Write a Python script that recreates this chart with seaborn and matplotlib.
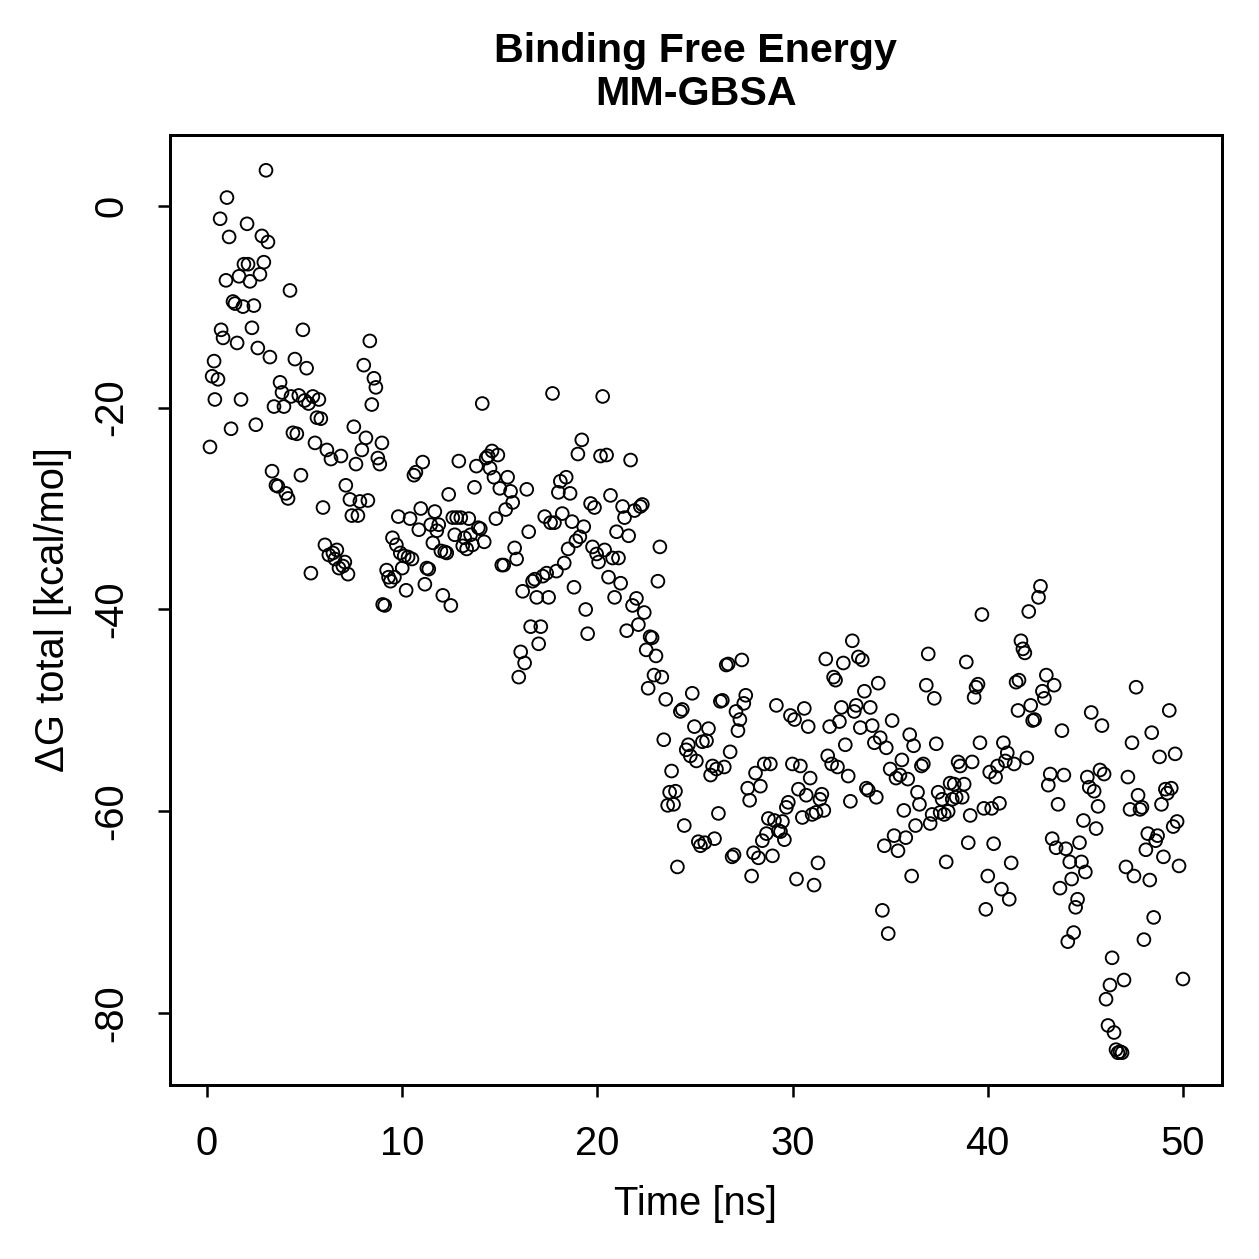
import matplotlib
matplotlib.use("Agg")
import matplotlib.pyplot as plt
import seaborn as sns
import pandas as pd

# time [ns] and dG total [kcal/mol]
time_ns = [
    0.15, 0.26, 0.36, 0.40, 0.56, 0.67, 0.72, 0.82, 0.97, 1.02,
    1.13, 1.23, 1.33, 1.43, 1.54, 1.64, 1.74, 1.84, 1.89, 2.05,
    2.10, 2.20, 2.30, 2.40, 2.50, 2.60, 2.71, 2.81, 2.91, 3.02,
    3.12, 3.22, 3.33, 3.43, 3.53, 3.63, 3.74, 3.84, 3.94, 4.04,
    4.15, 4.25, 4.30, 4.40, 4.50, 4.60, 4.70, 4.81, 4.91, 5.00,
    5.10, 5.20, 5.32, 5.42, 5.53, 5.63, 5.73, 5.83, 5.94, 6.04,
    6.14, 6.24, 6.35, 6.45, 6.55, 6.65, 6.76, 6.86, 6.96, 7.06,
    7.11, 7.22, 7.32, 7.42, 7.52, 7.63, 7.73, 7.83, 7.93, 8.03,
    8.14, 8.24, 8.34, 8.44, 8.55, 8.65, 8.75, 8.85, 8.96,
    9.0, 9.1, 9.2, 9.3, 9.4, 9.5, 9.6, 9.7, 9.8, 9.9,
    10.0, 10.1, 10.2, 10.3, 10.4, 10.5, 10.6, 10.7,
    10.85, 10.95, 11.05, 11.16, 11.26, 11.36, 11.46, 11.57, 11.67, 11.77,
    11.87, 11.98, 12.08, 12.18, 12.28, 12.38, 12.49, 12.59, 12.69, 12.79,
    12.9, 13.0, 13.1, 13.2, 13.3, 13.41, 13.5, 13.6, 13.7, 13.8, 13.9, 14.0,
    14.1, 14.2, 14.3, 14.4, 14.5, 14.6, 14.7, 14.8, 14.9, 15.0, 15.1, 15.2, 15.3, 15.4,
    15.55, 15.66, 15.76, 15.86, 15.97, 16.07, 16.17, 16.27, 16.38, 16.48,
    16.58, 16.68, 16.79, 16.89, 16.99,
    17.1, 17.2, 17.3, 17.4, 17.5, 17.6, 17.7, 17.8, 17.9, 18.0,
    18.1, 18.2, 18.3, 18.4, 18.5, 18.6, 18.7, 18.8, 18.9, 19.0,
    19.1, 19.2, 19.3, 19.4, 19.5,
    19.65, 19.75, 19.85, 19.96, 20.06, 20.16, 20.27, 20.37, 20.47, 20.57,
    20.67, 20.78, 20.88, 20.98, 21.08, 21.19, 21.29, 21.39,
    21.5, 21.6, 21.7, 21.8, 21.9, 22.0, 22.1, 22.2, 22.3, 22.4,
    22.5, 22.6, 22.7, 22.8, 22.9, 23.0, 23.1, 23.2, 23.3, 23.4,
    23.5, 23.6, 23.7, 23.8, 23.9, 24.0, 24.1,
    24.25, 24.35, 24.45, 24.55, 24.66, 24.76, 24.86, 24.97, 25.07, 25.17,
    25.28, 25.38, 25.5, 25.59, 25.69, 25.8, 25.9,
    26.0, 26.1, 26.2, 26.3, 26.4, 26.5, 26.6, 26.7, 26.8, 26.9,
    27.0, 27.1, 27.2, 27.3, 27.4, 27.5, 27.6, 27.7, 27.8, 27.9, 28.0, 28.1,
    28.25, 28.35, 28.45, 28.55, 28.66, 28.76, 28.86, 28.97, 29.07, 29.17,
    29.27, 29.38, 29.48, 29.58, 29.68, 29.78, 29.89, 29.99,
    30.1, 30.2, 30.3, 30.4, 30.5, 30.6, 30.7, 30.8, 30.9, 31.0,
    31.1, 31.2, 31.3, 31.4, 31.5, 31.6, 31.7, 31.8, 31.9, 32.0,
    32.1, 32.2, 32.3, 32.4, 32.5, 32.6, 32.7,
    32.85, 32.96, 33.06, 33.16, 33.26, 33.37, 33.47, 33.57, 33.68, 33.78,
    33.88, 33.98, 34.08, 34.19, 34.29, 34.39, 34.49,
    34.6, 34.7, 34.8, 34.9, 35.0, 35.1, 35.2, 35.3, 35.4, 35.5,
    35.6, 35.7, 35.8, 35.9, 36.0, 36.1, 36.2, 36.3, 36.4, 36.5, 36.6, 36.7,
    36.85, 36.95, 37.05, 37.15, 37.26, 37.36, 37.46, 37.56, 37.66, 37.77,
    37.87, 37.97, 38.07, 38.18, 38.28, 38.38, 38.48, 38.59, 38.69, 38.79,
    38.9, 39.0, 39.1, 39.2, 39.3, 39.4, 39.5, 39.6, 39.7, 39.8,
    39.9, 40.0, 40.1, 40.2, 40.3, 40.4, 40.5, 40.6, 40.7, 40.8,
    40.9, 41.0, 41.1, 41.2,
    41.35, 41.45, 41.55, 41.6, 41.7, 41.8, 41.9, 42.0, 42.1, 42.2, 42.3, 42.4,
    42.6, 42.7, 42.8, 42.9,
    43.0, 43.1, 43.2, 43.3, 43.4, 43.5, 43.6, 43.7, 43.8, 43.9,
    44.0, 44.1, 44.2, 44.3, 44.4, 44.5, 44.6, 44.7, 44.8, 44.9,
    45.0, 45.1, 45.2, 45.3,
    45.45, 45.55, 45.65, 45.75, 45.85, 45.96, 46.06, 46.16, 46.26, 46.37,
    46.47, 46.57, 46.67, 46.78, 46.88, 46.98, 47.08, 47.18, 47.29, 47.39, 47.49,
    47.6, 47.7, 47.8, 47.9,
    48.0, 48.1, 48.2, 48.3, 48.4, 48.5, 48.6, 48.7, 48.8, 48.9,
    49.0, 49.1, 49.2, 49.3, 49.4, 49.5, 49.6, 49.7, 49.8,
    50.0,
]

dg_total = [
    -23.9, -16.9, -15.4, -19.2, -17.2, -1.3, -12.3, -13.1, -7.4, 0.8,
    -3.1, -22.1, -9.5, -9.7, -13.6, -7.0, -19.2, -10.0, -5.8, -1.8,
    -5.8, -7.5, -12.1, -9.9, -21.7, -14.1, -6.8, -3.0, -5.6, 3.5,
    -3.6, -15.0, -26.3, -19.9, -27.7, -27.8, -17.5, -18.5, -19.9, -28.5,
    -29.0, -8.4, -18.9, -22.5, -15.2, -22.6, -18.8, -26.7, -12.3, -19.3,
    -16.1, -19.6, -36.4, -18.9, -23.5, -21.0, -19.2, -21.1, -29.9, -33.6,
    -24.2, -34.6, -25.1, -34.4, -35.0, -34.1, -35.9, -24.8, -35.7, -35.3,
    -27.7, -36.5, -29.1, -30.7, -21.9, -25.6, -30.7, -29.3, -24.2, -15.8,
    -23.0, -29.2, -13.4, -19.7, -17.1, -18.0, -25.0, -25.6, -23.5,
    -39.5, -39.6, -36.1, -36.8, -37.2, -32.9, -36.8, -33.6, -30.8, -34.4,
    -35.9, -34.7, -38.1, -34.8, -31.0, -35.0, -26.7, -26.4,
    -32.1, -30.0, -25.4, -37.5, -35.9, -36.0, -31.6, -33.4, -30.3, -32.2,
    -31.6, -34.2, -38.6, -34.3, -34.4, -28.6, -39.6, -30.9, -32.6, -30.9,
    -25.3, -30.9, -33.7, -32.9, -34.0, -31.0, -32.6, -33.6, -27.9, -25.8, -31.9, -32.0,
    -19.6, -33.3, -25.0, -24.8, -26.0, -24.3, -26.9, -31.0, -24.7, -28.0, -35.6, -35.6, -30.1, -26.9,
    -28.3, -29.4, -33.9, -35.0, -46.7, -44.2, -38.2, -45.3, -28.1, -32.3,
    -41.7, -37.2, -37.0, -38.8, -43.4,
    -41.7, -36.7, -30.8, -36.4, -38.8, -31.4, -18.6, -31.4, -36.2, -28.4,
    -27.3, -30.5, -35.4, -26.9, -34.0, -28.5, -31.3, -37.8, -33.2, -24.6,
    -32.8, -23.2, -31.8, -40.0, -42.4,
    -29.5, -33.8, -29.9, -34.5, -35.3, -24.8, -18.9, -34.1, -24.7, -36.8,
    -28.7, -34.9, -38.8, -32.3, -34.9, -37.4, -29.8, -30.9,
    -42.1, -32.7, -25.2, -39.6, -30.2, -38.9, -41.5, -29.8, -29.6, -40.3,
    -44.0, -47.8, -42.7, -42.8, -46.5, -44.6, -37.2, -33.8, -46.7, -52.9,
    -48.9, -59.4, -58.1, -56.0, -59.3, -58.0, -65.5,
    -50.1, -49.9, -61.4, -53.9, -53.4, -54.5, -48.3, -51.6, -55.0, -63.0,
    -63.4, -53.1, -63.1, -53.0, -51.8, -56.4, -55.5,
    -62.7, -55.8, -60.2, -49.1, -49.0, -55.6, -45.5, -45.4, -54.1, -64.5,
    -64.3, -50.1, -52.0, -50.9, -45.0, -49.3, -48.5, -57.7, -58.9, -66.4, -64.1, -56.2,
    -64.6, -57.5, -62.9, -55.3, -62.2, -60.7, -55.3, -64.4, -60.9, -49.5,
    -61.9, -62.0, -61.0, -62.8, -59.6, -59.1, -50.5, -55.3,
    -50.9, -66.7, -57.8, -55.5, -60.6, -49.8, -58.4, -51.6, -56.7, -60.3,
    -67.3, -60.1, -65.1, -58.8, -58.3, -59.9, -44.9, -54.5, -51.6, -55.3,
    -46.7, -47.0, -55.6, -51.1, -49.7, -45.3, -53.4,
    -56.5, -59.0, -43.1, -50.1, -49.5, -44.7, -51.7, -45.0, -48.1, -57.7,
    -57.9, -49.7, -51.5, -53.2, -58.6, -47.3, -52.7,
    -69.8, -63.4, -53.7, -72.1, -55.8, -51.0, -62.4, -56.7, -63.9, -56.4,
    -54.9, -59.9, -62.6, -56.8, -52.4, -66.4, -53.5, -61.4, -58.1, -59.3, -55.5, -55.3,
    -47.5, -44.4, -61.2, -60.3, -48.8, -53.3, -58.1, -60.1, -58.8, -60.3,
    -65.0, -60.0, -57.2, -58.8, -57.3, -58.6, -55.1, -55.5, -58.6, -57.3,
    -45.2, -63.1, -60.4, -55.1, -48.7, -47.7, -47.4, -53.2, -40.5, -59.7,
    -69.7, -66.4, -56.1, -59.7, -63.2, -56.6, -55.5, -59.2, -67.7, -53.2,
    -55.0, -54.2, -68.7, -65.1,
    -55.3, -47.2, -50.0, -47.0, -43.1, -43.9, -44.3, -54.7, -40.2, -49.5, -51.0, -50.9,
    -38.8, -37.7, -48.1, -48.8,
    -46.5, -57.4, -56.3, -62.7, -47.5, -63.6, -59.3, -67.6, -52.0, -56.4,
    -63.7, -72.9, -65.0, -66.7, -72.0, -69.5, -68.7, -63.1, -65.0, -60.9,
    -66.0, -56.6, -57.6, -50.2,
    -58.0, -61.7, -59.5, -55.9, -51.5, -56.3, -78.6, -81.2, -77.2, -74.5,
    -81.9, -83.6, -83.9, -83.8, -83.9, -76.7, -65.5, -56.6, -59.8, -53.2, -66.4,
    -47.7, -58.4, -59.8, -59.6,
    -72.7, -63.8, -62.2, -66.8, -52.2, -70.5, -62.9, -62.4, -54.6, -59.3,
    -64.5, -57.8, -58.2, -50.0, -57.7, -61.5, -54.3, -61.0, -65.4,
    -76.6,
]

x_ticks = [0, 10, 20, 30, 40, 50]
y_ticks = [-80, -60, -40, -20, 0]

df = pd.DataFrame({"time": time_ns, "dg": dg_total})

sns.set_style("ticks")
plt.rcParams["font.family"] = ["Liberation Sans", "DejaVu Sans"]
plt.rcParams["text.color"] = "black"
plt.rcParams["axes.labelcolor"] = "black"

fig, ax = plt.subplots(figsize=(1259 / 180, 1259 / 180), dpi=180)
fig.subplots_adjust(left=0.135, right=0.9706, bottom=0.1382, top=0.8928)

sns.scatterplot(data=df, x="time", y="dg", ax=ax, marker="o", s=26,
                facecolors="none", edgecolor="black", linewidth=0.75)

ax.set_xlim(-1.9, 52.0)
ax.set_ylim(-87.1, 7.0)
ax.set_xticks(x_ticks)
ax.set_yticks(y_ticks)
ax.set_yticklabels([str(v) for v in y_ticks], rotation=90, va="center")

for sp in ax.spines.values():
    sp.set_visible(True)
    sp.set_linewidth(1.2)
    sp.set_color("black")
ax.tick_params(axis="both", direction="out", length=4.8, width=1.0,
               labelsize=16, pad=11, colors="black")

ax.set_xlabel("Time [ns]", fontsize=16, labelpad=9, color="black")
ax.set_ylabel("ΔG total [kcal/mol]", fontsize=16, labelpad=8, color="black")
ax.set_title("Binding Free Energy\nMM-GBSA", fontsize=16.5, fontweight="bold",
             pad=12, linespacing=1.15, color="black")

fig.savefig("out.png", dpi=180)
